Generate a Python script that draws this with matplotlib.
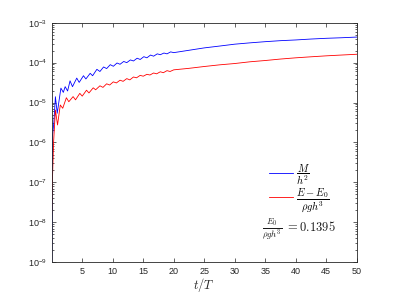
import matplotlib
matplotlib.use("Agg")
import matplotlib.pyplot as plt

# --- data (t/T and the two normalised quantities) ---
t_M = [0.0, 0.15, 0.35, 0.6, 0.9, 1.5, 1.9, 2.2, 2.6, 3.0, 3.4, 4.1, 4.5, 5.2, 5.6,
       6.3, 6.7, 7.4, 7.9, 8.5, 9.0, 9.6, 10.1, 10.7, 11.2, 11.8, 12.3, 12.9, 13.4,
       14.0, 14.5, 15.1, 15.6, 16.2, 16.7, 17.3, 17.8, 18.4, 18.9, 19.5, 20.0,
       22.5, 25.0, 27.5, 30.0, 32.5, 35.0, 37.5, 40.0, 42.5, 45.0, 47.5, 50.0]
M_h2 = [3.2e-10, 1.6e-6, 3.2e-6, 1.4e-5, 5.4e-6, 2.3e-5, 1.8e-5, 2.5e-5, 1.95e-5,
        3.5e-5, 2.5e-5, 4.1e-5, 3.2e-5, 4.7e-5, 3.9e-5, 5.4e-5, 4.7e-5, 6.8e-5,
        6.0e-5, 7.8e-5, 7.1e-5, 8.9e-5, 8.1e-5, 9.8e-5, 9.1e-5, 1.07e-4, 1.0e-4,
        1.17e-4, 1.10e-4, 1.29e-4, 1.20e-4, 1.41e-4, 1.32e-4, 1.55e-4, 1.45e-4,
        1.66e-4, 1.58e-4, 1.74e-4, 1.66e-4, 1.86e-4, 1.78e-4,
        2.04e-4, 2.34e-4, 2.6e-4, 2.9e-4, 3.13e-4, 3.35e-4, 3.55e-4, 3.7e-4,
        3.9e-4, 4.07e-4, 4.2e-4, 4.37e-4]

t_E = [0.0, 0.1, 0.3, 0.6, 0.95, 1.4, 1.8, 2.4, 2.8, 3.5, 3.9, 4.6, 5.0, 5.7, 6.1,
       6.8, 7.2, 7.9, 8.4, 9.0, 9.5, 10.1, 10.6, 11.2, 11.7, 12.3, 12.8, 13.4, 13.9,
       14.5, 15.0, 15.6, 16.1, 16.7, 17.2, 17.8, 18.3, 18.9, 19.4, 20.0,
       22.5, 25.0, 27.5, 30.0, 32.5, 35.0, 37.5, 40.0, 42.5, 45.0, 47.5, 50.0]
dE = [1.6e-8, 1.0e-7, 1.0e-6, 6.5e-6, 2.75e-6, 8.7e-6, 7.2e-6, 1.32e-5, 1.05e-5,
      1.41e-5, 1.17e-5, 1.7e-5, 1.45e-5, 2.04e-5, 1.74e-5, 2.34e-5, 2.09e-5,
      2.63e-5, 2.4e-5, 2.95e-5, 2.75e-5, 3.3e-5, 3.1e-5, 3.63e-5, 3.4e-5, 3.98e-5,
      3.7e-5, 4.37e-5, 4.17e-5, 4.8e-5, 4.57e-5, 5.1e-5, 4.9e-5, 5.5e-5, 5.25e-5,
      5.9e-5, 5.6e-5, 6.3e-5, 6.0e-5, 6.6e-5,
      7.2e-5, 8.0e-5, 8.8e-5, 9.5e-5, 1.05e-4, 1.13e-4, 1.23e-4, 1.32e-4,
      1.4e-4, 1.48e-4, 1.55e-4, 1.62e-4]

x_ticks = [5, 10, 15, 20, 25, 30, 35, 40, 45, 50]
E0_value = "0.1395"

plt.rcParams["font.family"] = ["Liberation Sans", "DejaVu Sans"]
plt.rcParams["mathtext.fontset"] = "cm"

fig = plt.figure(figsize=(3.95, 2.95), dpi=100)
ax = fig.add_axes([0.131, 0.111, 0.772, 0.812])

ax.plot(t_M, M_h2, color="blue", lw=0.6, label=r"$\dfrac{M}{h^2}$")
ax.plot(t_E, dE, color="red", lw=0.6, label=r"$\dfrac{E-E_0}{\rho g h^3}$")

ax.set_yscale("log")
ax.set_xlim(0, 50)
ax.set_ylim(1e-9, 1e-3)
ax.set_xticks(x_ticks)

edge = "0.15"
for s in ax.spines.values():
    s.set_color(edge)
    s.set_linewidth(0.6)
ax.tick_params(which="both", direction="in", top=True, right=True,
               colors=edge, labelsize=6.5, width=0.5)
ax.tick_params(which="major", length=3)
ax.tick_params(which="minor", length=1.5)
ax.tick_params(axis="x", which="minor", bottom=False, top=False)

ax.set_xlabel(r"$t/T$", fontsize=9, color=edge, labelpad=0)

leg = ax.legend(loc="lower left", bbox_to_anchor=(0.70, 0.185), frameon=False,
                fontsize=7.5, handlelength=2.3, handletextpad=0.3, labelspacing=-0.15,
                borderaxespad=0)

ax.text(0.69, 0.138, r"$\frac{E_0}{\rho g h^3}$ $=$" + r"$\mathrm{" + E0_value + "}$",
        transform=ax.transAxes, fontsize=9, color="0.1", va="center")

fig.savefig("out.png", dpi=100)
